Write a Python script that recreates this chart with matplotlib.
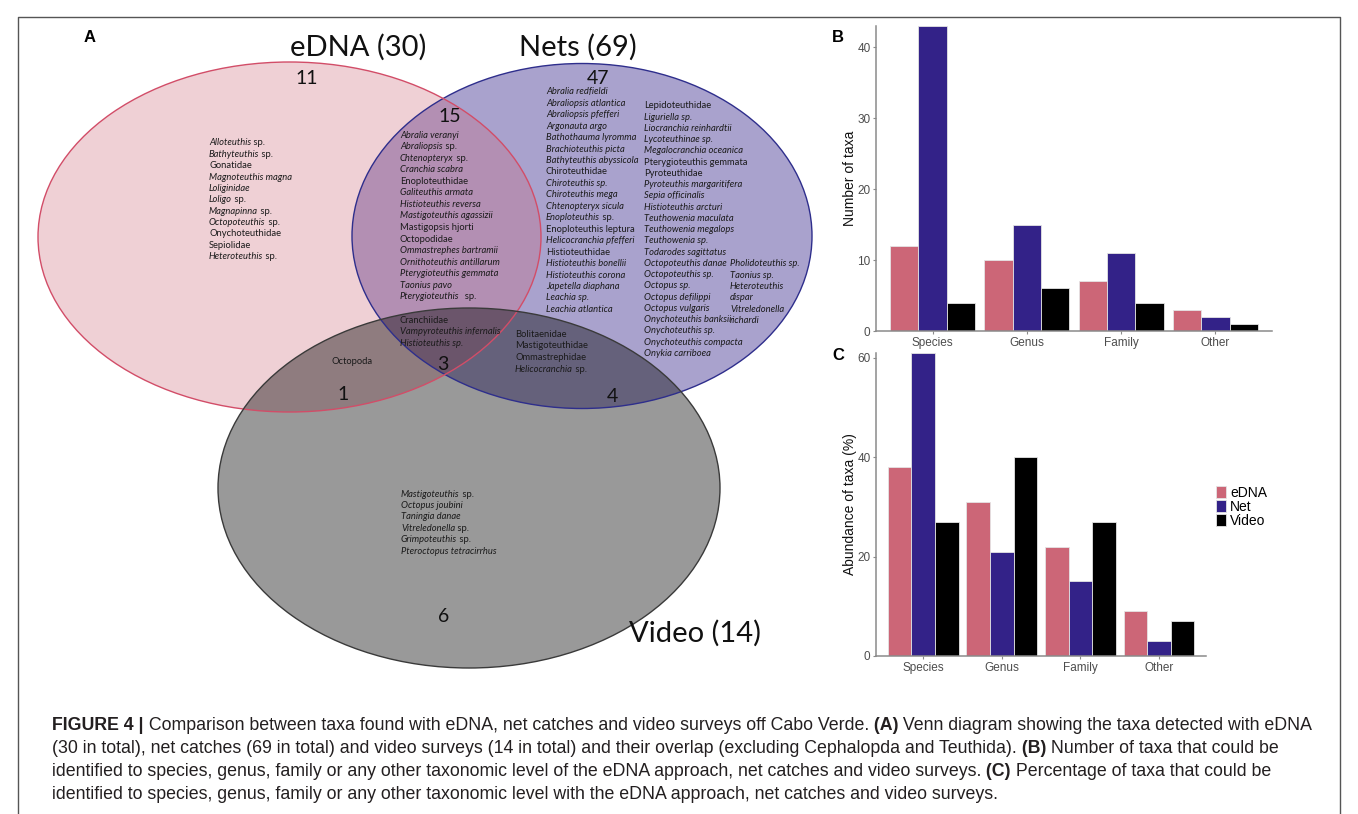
import matplotlib.pyplot as plt
from matplotlib.patches import Ellipse, Patch
from matplotlib import font_manager
import numpy as np

# ---------------- data ----------------
levels = ['Species', 'Genus', 'Family', 'Other']
methods = ['eDNA', 'Net', 'Video']
method_colors = ['#CC6677', '#332288', '#000000']

n_edna = [12, 10, 7, 3]
n_net = [43, 15, 11, 2]
n_video = [4, 6, 4, 1]

pct_edna = [38, 31, 22, 9]
pct_net = [61, 21, 15, 3]
pct_video = [27, 40, 27, 7]

set_names = ['eDNA (30)', 'Nets (69)', 'Video (14)']
region_names = ['eDNA', 'Nets', 'eDNA+Nets', 'eDNA+Video', 'eDNA+Nets+Video', 'Nets+Video', 'Video']
region_counts = [11, 47, 15, 1, 3, 4, 6]

# '*' toggles italic
edna_only = ['*Alloteuthis* sp.', '*Bathyteuthis* sp.', 'Gonatidae', '*Magnoteuthis magna*',
             '*Loliginidae*', '*Loligo* sp.', '*Magnapinna* sp.', '*Octopoteuthis* sp.',
             'Onychoteuthidae', 'Sepiolidae', '*Heteroteuthis* sp.']
edna_nets = ['*Abralia veranyi*', '*Abraliopsis* sp.', '*Chtenopteryx* sp.', '*Cranchia scabra*',
             'Enoploteuthidae', '*Galiteuthis armata*', '*Histioteuthis reversa*',
             '*Mastigoteuthis agassizii*', 'Mastigopsis hjorti', 'Octopodidae',
             '*Ommastrephes bartramii*', '*Ornithoteuthis antillarum*', '*Pterygioteuthis gemmata*',
             '*Taonius pavo*', '*Pterygioteuthis*  sp.']
all_three = ['Cranchiidae', '*Vampyroteuthis infernalis*', '*Histioteuthis sp.*']
edna_video = ['Octopoda']
nets_video = ['Bolitaenidae', 'Mastigoteuthidae', 'Ommastrephidae', '*Helicocranchia* sp.']
video_only = ['*Mastigoteuthis* sp.', '*Octopus joubini*', '*Taningia danae*',
              '*Vitreledonella* sp.', '*Grimpoteuthis* sp.', '*Pteroctopus tetracirrhus*']
nets_col1 = ['*Abralia redfieldi*', '*Abraliopsis atlantica*', '*Abraliopsis pfefferi*',
             '*Argonauta argo*', '*Bathothauma lyromma*', '*Brachioteuthis picta*',
             '*Bathyteuthis abyssicola*', 'Chiroteuthidae', '*Chiroteuthis sp.*',
             '*Chiroteuthis mega*', '*Chtenopteryx sicula*', '*Enoploteuthis* sp.',
             'Enoploteuthis leptura', '*Helicocranchia pfefferi*', 'Histioteuthidae',
             '*Histioteuthis bonellii*', '*Histioteuthis corona*', '*Japetella diaphana*',
             '*Leachia sp.*', '*Leachia atlantica*']
nets_col2 = ['Lepidoteuthidae', '*Liguriella sp.*', '*Liocranchia reinhardtii*',
             '*Lycoteuthinae sp.*', '*Megalocranchia oceanica*', 'Pterygioteuthis gemmata',
             'Pyroteuthidae', '*Pyroteuthis margaritifera*', '*Sepia officinalis*',
             '*Histioteuthis arcturi*', '*Teuthowenia maculata*', '*Teuthowenia megalops*',
             '*Teuthowenia sp.*', '*Todarodes sagittatus*', '*Octopoteuthis danae*',
             '*Octopoteuthis sp.*', '*Octopus sp.*', '*Octopus defilippi*', '*Octopus vulgaris*',
             '*Onychoteuthis banksii*', '*Onychoteuthis sp.*', '*Onychoteuthis compacta*',
             '*Onykia carriboea*']
nets_col3 = ['*Pholidoteuthis sp.*', '*Taonius sp.*', '*Heteroteuthis*', '*dispar*',
             '*Vitreledonella*', '*richardi*']

# '*' toggles bold
caption = [
    '*FIGURE 4 |* Comparison between taxa found with eDNA, net catches and video surveys off Cabo Verde. '
    '*(A)* Venn diagram showing the taxa detected with eDNA',
    '(30 in total), net catches (69 in total) and video surveys (14 in total) and their overlap '
    '(excluding Cephalopda and Teuthida). *(B)* Number of taxa that could be',
    'identified to species, genus, family or any other taxonomic level of the eDNA approach, '
    'net catches and video surveys. *(C)* Percentage of taxa that could be',
    'identified to species, genus, family or any other taxonomic level with the eDNA approach, '
    'net catches and video surveys.',
]

# ---------------- figure ----------------
W, H = 1358, 814
fig = plt.figure(figsize=(W / 100, H / 100), dpi=100)
renderer = fig.canvas.get_renderer()

installed = {f.name for f in font_manager.fontManager.ttflist}
cap_font = 'Liberation Sans Narrow' if 'Liberation Sans Narrow' in installed else 'Liberation Sans'
cap_size = 14.6 if cap_font == 'Liberation Sans Narrow' else 12.8
venn_font = 'Lato'
plot_font = 'Liberation Sans'

# full-figure axes in pixel units for the Venn diagram and caption
venn = fig.add_axes([0, 0, 1, 1])
venn.set_xlim(0, W)
venn.set_ylim(H, 0)
venn.axis('off')


def rich(x, y, s, alt, **kw):
    parts = s.split('*')
    # trailing blanks are carried to the next run so they get measured
    for i in range(len(parts) - 1):
        stripped = parts[i].rstrip(' ')
        parts[i + 1] = ' ' * (len(parts[i]) - len(stripped)) + parts[i + 1]
        parts[i] = stripped
    for i, part in enumerate(parts):
        if not part:
            continue
        style = dict(kw)
        if i % 2:
            style.update(alt)
        t = venn.text(x, y, part, va='baseline', **style)
        x += t.get_window_extent(renderer).width


def taxa_list(x, y0, dy, entries, size=6.75):
    for i, s in enumerate(entries):
        rich(x, y0 + i * dy + 2.6, s, {'style': 'italic'},
             family=venn_font, fontsize=size, color='#1a1a1a', zorder=5)


# set ellipses: fills first, then outlines
shapes = [((582, 236), 460, 345, '#332288', 0.42, '#2e2e8c'),
          ((289.5, 237), 503, 350, '#CC6677', 0.30, '#d24d68'),
          ((469, 488), 502, 360, '#000000', 0.40, '#3a3a3a')]
for (c, w, h, fc, a, ec) in shapes:
    venn.add_patch(Ellipse(c, w, h, facecolor=fc, alpha=a, edgecolor='none', zorder=1))
for (c, w, h, fc, a, ec) in shapes:
    venn.add_patch(Ellipse(c, w, h, facecolor='none', edgecolor=ec, lw=1.0, zorder=2))

# set titles
for name, (x, y) in zip(set_names, [(358, 47), (578, 47), (695, 633)]):
    venn.text(x, y, name, family=venn_font, fontsize=21, ha='center', va='center',
              color='#111111', zorder=5)

# region counts
count_pos = [(307, 78), (598, 78), (450, 117), (343, 395), (443, 365), (612, 396), (444, 617)]
for n, (x, y) in zip(region_counts, count_pos):
    venn.text(x, y, str(n), family=venn_font, fontsize=14, ha='center', va='center',
              color='#111111', zorder=5)

# taxa in each region
taxa_list(209, 142.7, 11.4, edna_only)
taxa_list(400, 135, 11.55, edna_nets)
taxa_list(546, 91.7, 11.45, nets_col1)
taxa_list(644, 105.7, 11.25, nets_col2)
taxa_list(730, 263.7, 11.3, nets_col3)
taxa_list(400, 320, 11.6, all_three)
taxa_list(332, 361.7, 11.4, edna_video)
taxa_list(515, 334.3, 11.55, nets_video)
taxa_list(401, 494, 11.4, video_only)

# panel letters
for letter, (x, y) in zip('ABC', [(90, 37), (838, 37), (838, 355)]):
    venn.text(x, y, letter, family=plot_font, fontsize=12, fontweight='bold',
              ha='center', va='center', zorder=5)

# outer frame
venn.plot([18, 18, 1340, 1340], [814, 17, 17, 814], color='#555555', lw=1.0, zorder=0)

# caption
for i, line in enumerate(caption):
    rich(52, 729.5 + i * 23.3, line, {'weight': 'bold'},
         family=cap_font, fontsize=cap_size, color='#231f20')

# ---------------- bar charts ----------------
x = np.arange(1, len(levels) + 1)
bw = 0.3


def bar_panel(ax, series, ymax, yticks, ylabel, label_x):
    for k, (vals, col, m) in enumerate(zip(series, method_colors, methods)):
        ax.bar(x + (k - 1) * bw, vals, width=bw, color=col, edgecolor='#e4e4e4',
               linewidth=0.6, label=m)
    ax.set_xlim(0.4, 4.6)
    ax.set_ylim(0, ymax)
    ax.set_xticks(x, levels)
    ax.set_yticks(yticks)
    for s in ['top', 'right']:
        ax.spines[s].set_visible(False)
    for s in ['left', 'bottom']:
        ax.spines[s].set_color('#8a8a8a')
        ax.spines[s].set_linewidth(1.1)
    ax.tick_params(colors='#8a8a8a', labelcolor='#4d4d4d', labelsize=8.5,
                   length=2.5, width=0.8, pad=1.5)
    for lab in ax.get_xticklabels() + ax.get_yticklabels():
        lab.set_family(plot_font)
    ax.set_ylabel(ylabel, family=plot_font, fontsize=10, color='#111111')
    ax.yaxis.set_label_coords(label_x, 0.5)
    ax.patch.set_alpha(0)


ax_b = fig.add_axes([876 / W, 1 - 331 / H, 396 / W, 305 / H])
bar_panel(ax_b, [n_edna, n_net, n_video], 43, [0, 10, 20, 30, 40], 'Number of taxa', -0.048)

ax_c = fig.add_axes([876 / W, 1 - 656 / H, 330 / W, 303.3 / H])
bar_panel(ax_c, [pct_edna, pct_net, pct_video], 61, [0, 20, 40, 60], 'Abundance of taxa (%)', -0.058)

handles = [Patch(facecolor=c, edgecolor='#e4e4e4', linewidth=0.6) for c in method_colors]
ax_c.legend(handles, methods, loc='upper left', bbox_to_anchor=(1216 / W, 1 - 486 / H),
            bbox_transform=fig.transFigure, frameon=False, borderpad=0, borderaxespad=0,
            labelspacing=0, handlelength=0.7, handleheight=0.95, handletextpad=0.3,
            prop={'family': plot_font, 'size': 10})

fig.savefig('out.png', dpi=100)
